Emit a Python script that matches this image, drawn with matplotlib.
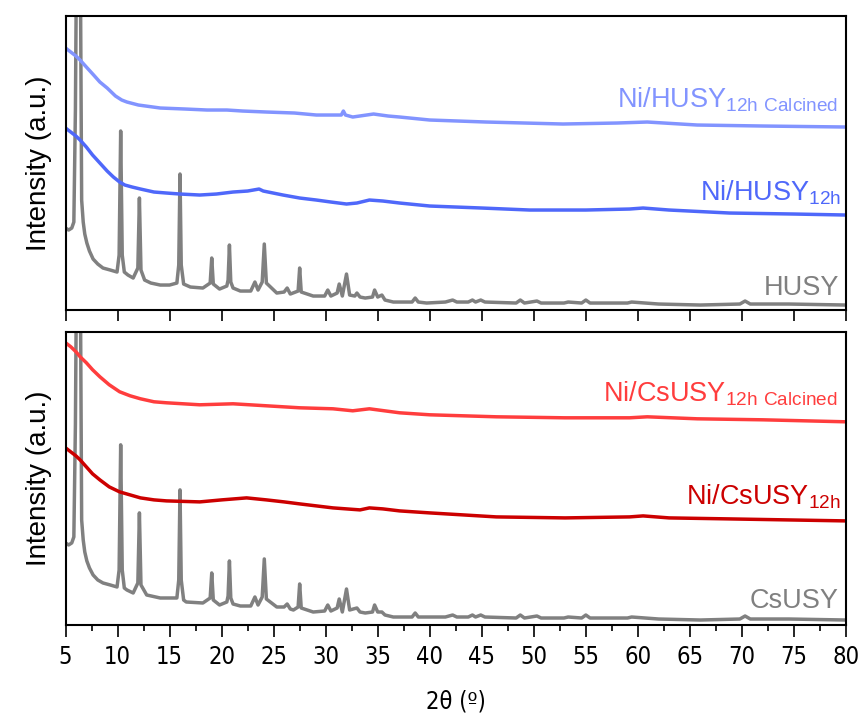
import numpy as np
import matplotlib
matplotlib.use("Agg")
import matplotlib.pyplot as plt
from matplotlib.ticker import MultipleLocator
from matplotlib import font_manager

plt.rcParams['font.family'] = ['Liberation Sans', 'DejaVu Sans']

# XRD patterns: (2theta, intensity a.u.)
husy = [(5.0, 82), (5.3, 80), (5.6, 82), (5.8, 88), (5.95, 200), (6.1, 420), (6.3, 600),
        (6.45, 300), (6.55, 110), (6.7, 88), (6.85, 76), (7.05, 67), (7.3, 59), (7.65, 51),
        (8.1, 46), (8.6, 42), (9.3, 40), (9.95, 38), (10.15, 55), (10.3, 179), (10.45, 55),
        (10.65, 38), (11.0, 35), (11.5, 32), (11.95, 42), (12.1, 112), (12.25, 40), (12.6, 30),
        (13.2, 27), (14.1, 25), (15.0, 25), (15.7, 27), (15.88, 45), (16.0, 136), (16.12, 45),
        (16.35, 26), (17.0, 23), (18.2, 22), (18.9, 27), (19.05, 52), (19.2, 26), (19.8, 21),
        (20.5, 24), (20.62, 30), (20.75, 65), (20.88, 28), (21.1, 22), (21.8, 19), (22.8, 19),
        (23.2, 28), (23.5, 20), (23.9, 28), (24.1, 66), (24.3, 27), (25.3, 17), (26.0, 18),
        (26.3, 22), (26.6, 16), (27.35, 19), (27.5, 42), (27.65, 18), (28.8, 14), (29.9, 14),
        (30.2, 20), (30.5, 14), (31.1, 17), (31.3, 26), (31.6, 14), (32.0, 36), (32.3, 15),
        (32.8, 14), (33.0, 17), (33.3, 13), (33.8, 12), (34.5, 13), (34.7, 20), (35.0, 13),
        (35.4, 15), (35.7, 10), (36.5, 8), (38.3, 8), (38.6, 12), (38.9, 8), (39.7, 7),
        (41.5, 8), (42.2, 10), (42.6, 8), (43.7, 8), (44.1, 10), (44.4, 8), (44.9, 10),
        (45.3, 8), (48.3, 7), (48.7, 10), (49.1, 7), (50.3, 9), (50.7, 7), (52.9, 7),
        (53.3, 8), (54.6, 7), (55.0, 10), (55.4, 7), (59.0, 7), (59.4, 8), (62.0, 6),
        (66.0, 5), (69.8, 6), (70.3, 9), (70.8, 6), (74.5, 6), (80.0, 5)]

ni_husy = [(5.0, 182), (5.5, 178), (6.0, 174), (6.4, 170), (7.0, 163), (7.6, 155), (8.3, 147),
           (9.0, 139), (9.6, 133), (10.2, 128), (10.7, 125), (11.4, 123), (12.2, 121),
           (13.5, 118), (14.7, 117), (16.0, 116), (17.9, 115), (19.5, 116), (21.1, 118),
           (22.5, 119), (23.6, 121), (24.0, 119), (25.9, 115), (27.5, 112), (29.1, 110),
           (30.5, 108), (32.0, 106), (33.0, 107), (34.2, 110), (35.5, 109), (37.1, 107),
           (40.0, 104), (45.0, 102), (49.6, 100), (55.0, 100), (59.2, 101), (60.5, 102),
           (63.0, 100), (68.8, 97), (75.0, 96), (80.0, 95)]

ni_husy_calc = [(5.0, 262), (5.5, 258), (6.0, 254), (6.4, 250), (7.0, 243), (7.7, 235),
                (8.3, 228), (9.0, 222), (9.8, 214), (10.4, 210), (10.9, 208), (12.0, 205),
                (14.1, 202), (16.5, 201), (18.6, 200), (20.5, 200), (22.0, 199), (24.3, 198),
                (27.0, 197), (29.1, 195), (31.5, 195), (31.7, 199), (31.9, 195), (32.6, 193),
                (34.6, 196), (36.0, 194), (37.1, 193), (40.0, 190), (45.4, 188), (52.8, 186),
                (58.0, 187), (60.9, 188), (65.7, 185), (72.0, 184), (80.0, 183)]

csusy = [(5.0, 82), (5.3, 80), (5.6, 82), (5.8, 88), (5.95, 200), (6.1, 420), (6.3, 600),
         (6.45, 300), (6.55, 105), (6.7, 85), (6.85, 73), (7.05, 64), (7.3, 57), (7.65, 50),
         (8.1, 45), (8.6, 42), (9.3, 40), (9.95, 38), (10.15, 55), (10.3, 180), (10.45, 55),
         (10.65, 37), (10.9, 35), (11.5, 32), (11.95, 42), (12.1, 112), (12.25, 40), (12.8, 30),
         (14.1, 27), (15.3, 27), (15.7, 27), (15.88, 45), (16.0, 135), (16.12, 45), (16.35, 25),
         (16.6, 23), (18.2, 22), (18.9, 27), (19.05, 52), (19.2, 25), (19.8, 20), (20.5, 23),
         (20.62, 29), (20.75, 64), (20.88, 27), (21.1, 21), (21.8, 19), (22.8, 19), (23.2, 28),
         (23.5, 20), (23.9, 28), (24.1, 66), (24.3, 26), (25.3, 18), (26.0, 18), (26.3, 21),
         (26.6, 16), (26.9, 15), (27.35, 18), (27.5, 41), (27.65, 17), (28.8, 13), (29.9, 14),
         (30.2, 20), (30.5, 14), (31.1, 17), (31.3, 26), (31.6, 13), (32.0, 36), (32.3, 15),
         (33.0, 17), (33.3, 13), (33.8, 12), (34.5, 13), (34.7, 20), (35.0, 13), (35.4, 13),
         (35.7, 10), (36.5, 8), (38.3, 8), (38.6, 12), (38.9, 8), (39.7, 8), (41.5, 8),
         (42.2, 10), (42.6, 8), (43.7, 8), (44.1, 10), (44.4, 8), (44.9, 10), (45.3, 8),
         (48.3, 7), (48.7, 10), (49.1, 7), (50.3, 9), (50.7, 7), (52.9, 7), (53.3, 8),
         (54.6, 7), (55.0, 10), (55.4, 7), (59.0, 7), (59.4, 8), (62.0, 6), (66.0, 5),
         (69.8, 6), (70.3, 9), (70.8, 6), (74.5, 6), (80.0, 5)]

ni_csusy = [(5.0, 177), (5.5, 173), (6.0, 169), (6.4, 165), (7.0, 158), (7.6, 151), (8.3, 145),
            (9.2, 138), (10.2, 133), (11.2, 130), (12.2, 127), (13.5, 125), (14.7, 124),
            (17.9, 123), (20.0, 125), (22.4, 127), (24.3, 125), (26.0, 123), (27.5, 121),
            (30.7, 117), (33.3, 115), (34.2, 117), (35.5, 116), (37.1, 114), (40.0, 112),
            (46.4, 108), (53.0, 107), (59.2, 108), (60.5, 109), (63.0, 107), (68.8, 106),
            (80.0, 104)]

ni_csusy_calc = [(5.0, 282), (5.5, 278), (6.0, 273), (6.4, 268), (7.0, 262), (7.6, 255),
                 (8.3, 248), (9.2, 240), (10.2, 233), (11.2, 229), (12.2, 226), (13.5, 223),
                 (14.7, 222), (17.9, 220), (21.1, 221), (24.3, 219), (27.5, 217), (30.7, 216),
                 (32.6, 214), (34.2, 216), (37.1, 212), (40.0, 210), (46.4, 208), (53.0, 207),
                 (59.2, 207), (60.9, 208), (65.7, 206), (72.0, 205), (80.0, 203)]

GRAY = '#808080'
LBLUE = '#8294ff'
BLUE = '#4f68fa'
LRED = '#ff3d3d'
DRED = '#cc0000'

# condensed face for the axis numbers
narrow = font_manager.FontProperties(family='DejaVu Sans', stretch='condensed', size=17)

fig = plt.figure(figsize=(8.61, 7.18), dpi=100)
ax_top = fig.add_axes([0.0761, 0.5682, 0.9065, 0.4095])
ax_bot = fig.add_axes([0.0761, 0.1295, 0.9065, 0.4085])


def draw(ax, series):
    for pts, col in series:
        arr = np.array(pts)
        ax.plot(arr[:, 0], arr[:, 1], color=col, lw=2.5, solid_joinstyle='round')


draw(ax_top, [(husy, GRAY), (ni_husy, BLUE), (ni_husy_calc, LBLUE)])
draw(ax_bot, [(csusy, GRAY), (ni_csusy, DRED), (ni_csusy_calc, LRED)])

ax_top.set_ylim(0, 294)
ax_bot.set_ylim(0, 293)

for ax in (ax_top, ax_bot):
    ax.set_xlim(5, 80)
    ax.set_yticks([])
    for sp in ax.spines.values():
        sp.set_linewidth(1.5)
    ax.set_ylabel('Intensity (a.u.)', fontsize=20, labelpad=10)
    ax.xaxis.set_major_locator(MultipleLocator(5))

ax_top.tick_params(axis='x', direction='out', length=8, width=1.2, labelbottom=False)
ax_bot.xaxis.set_minor_locator(MultipleLocator(2.5))
ax_bot.tick_params(axis='x', which='major', direction='out', length=8.5, width=1.2, pad=6)
ax_bot.tick_params(axis='x', which='minor', direction='out', length=4, width=1.2)
for lab in ax_bot.get_xticklabels():
    lab.set_fontproperties(narrow)
ax_bot.set_xlabel('2θ (º)', fontproperties=narrow, labelpad=15)

# sample labels
fs = 19.5
ax_top.text(79.3, 203, r'Ni/HUSY$_{\mathregular{12h\ Calcined}}$', color=LBLUE, fontsize=fs,
            ha='right', va='baseline')
ax_top.text(79.5, 110, r'Ni/HUSY$_{\mathregular{12h}}$', color=BLUE, fontsize=fs,
            ha='right', va='baseline')
ax_top.text(79.3, 15, 'HUSY', color=GRAY, fontsize=fs, ha='right', va='baseline')
ax_bot.text(79.2, 223, r'Ni/CsUSY$_{\mathregular{12h\ Calcined}}$', color=LRED, fontsize=fs,
            ha='right', va='baseline')
ax_bot.text(79.5, 120, r'Ni/CsUSY$_{\mathregular{12h}}$', color=DRED, fontsize=fs,
            ha='right', va='baseline')
ax_bot.text(79.3, 17, 'CsUSY', color=GRAY, fontsize=fs, ha='right', va='baseline')

fig.savefig('out.png', dpi=100)
